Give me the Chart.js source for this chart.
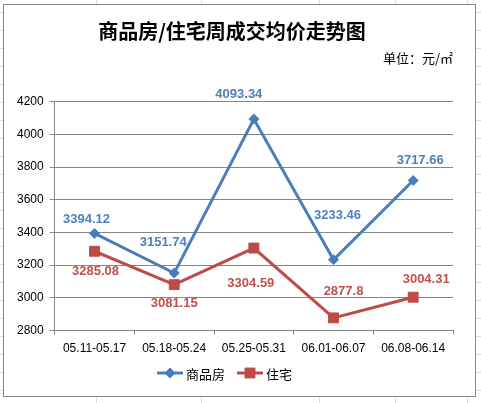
<!DOCTYPE html>
<html>
<head>
<meta charset="utf-8">
<script src="https://cdn.jsdelivr.net/npm/chart.js@4/dist/chart.umd.min.js"></script>
<style>
  html, body { margin: 0; padding: 0; }
  body {
    width: 481px; height: 403px; overflow: hidden; position: relative;
    background-color: #fff;
    background-image:
      repeating-linear-gradient(to bottom, transparent 0 12px, #dadcdd 12px 13px, transparent 13px 18px),
      linear-gradient(to right, transparent 96px, #dadcdd 96px 97px, transparent 97px 201px, #dadcdd 201px 202px,
        transparent 202px 319px, #dadcdd 319px 320px, transparent 320px 395px, #dadcdd 395px 396px,
        transparent 396px 467px, #dadcdd 467px 468px, transparent 468px);
  }
  #box {
    position: absolute; left: 3px; top: 4px; width: 471px; height: 391px;
    border: 1px solid #868686; background: #fff;
  }
</style>
</head>
<body>
<div id="box"><canvas id="chart" width="471" height="391"></canvas></div>
<script>
/* Datos */
const weeks = ['05.11-05.17', '05.18-05.24', '05.25-05.31', '06.01-06.07', '06.08-06.14'];
const shangpinfang = [3394.12, 3151.74, 4093.34, 3233.46, 3717.66];
const zhuzhai = [3285.08, 3081.15, 3304.59, 2877.8, 3004.31];
const yTicks = [2800, 3000, 3200, 3400, 3600, 3800, 4000, 4200];

const blue = '#4A7EBB';
const red = '#BE4B48';

/* Desplazamiento de etiquetas (como en Excel, movidas a mano) */
const labelOffsets = [
  [[-8, -14], [-11, -31], [-15, -25], [4, -44], [7, -20]],
  [[1, 20], [0, 19], [-3, 35], [10, -26], [13, -18]]
];

const labelPlugin = {
  id: 'valueLabels',
  afterDatasetsDraw(chart) {
    const ctx = chart.ctx;
    ctx.save();
    ctx.font = 'bold 13px "Liberation Sans", Arial, sans-serif';
    ctx.textAlign = 'center';
    ctx.textBaseline = 'middle';
    chart.data.datasets.forEach((ds, i) => {
      ctx.fillStyle = i === 0 ? '#4F81BD' : '#C0504D';
      chart.getDatasetMeta(i).data.forEach((pt, j) => {
        const off = labelOffsets[i][j];
        ctx.fillText(String(ds.data[j]), pt.x + off[0], pt.y + off[1]);
      });
    });
    ctx.restore();
  }
};

/* Leyenda con linea y marcador */
const legendPlugin = {
  id: 'lineLegend',
  afterDraw(chart) {
    const ctx = chart.ctx;
    const y = 368;
    let x = 153;
    ctx.save();
    ctx.font = '13px "Noto Sans CJK SC", sans-serif';
    ctx.textBaseline = 'middle';
    chart.data.datasets.forEach((ds) => {
      ctx.strokeStyle = ds.borderColor;
      ctx.lineWidth = 3;
      ctx.beginPath();
      ctx.moveTo(x, y);
      ctx.lineTo(x + 26, y);
      ctx.stroke();
      ctx.fillStyle = ds.backgroundColor;
      ctx.lineWidth = 1;
      Chart.helpers.drawPoint(ctx, {
        pointStyle: ds.pointStyle,
        radius: ds.pointRadius,
        borderWidth: 1
      }, x + 13, y);
      ctx.fillStyle = '#000';
      ctx.fillText(ds.label, x + 29, y + 1);
      x += 29 + ctx.measureText(ds.label).width + 12;
    });
    ctx.restore();
  }
};

const config = {
  type: 'line',
  data: {
    labels: weeks,
    datasets: [
      {
        label: '商品房',
        data: shangpinfang,
        borderColor: blue,
        backgroundColor: blue,
        borderWidth: 3,
        pointStyle: 'rectRot',
        pointRadius: 5,
        pointBorderWidth: 1,
        tension: 0
      },
      {
        label: '住宅',
        data: zhuzhai,
        borderColor: red,
        backgroundColor: red,
        borderWidth: 3,
        pointStyle: 'rect',
        pointRadius: 7,
        pointBorderWidth: 1,
        tension: 0
      }
    ]
  },
  options: {
    responsive: false,
    animation: false,
    events: [],
    layout: { padding: { left: 7, right: 22, top: 0, bottom: 33 } },
    plugins: {
      legend: { display: false },
      tooltip: { enabled: false },
      title: {
        display: true,
        text: '商品房/住宅周成交均价走势图',
        color: '#000',
        font: { family: '"Noto Sans CJK SC", sans-serif', size: 20, weight: 'bold' },
        padding: { top: 14, bottom: 7 }
      },
      subtitle: {
        display: true,
        text: '单位：元/㎡',
        align: 'end',
        color: '#000',
        font: { family: '"Noto Sans CJK SC", sans-serif', size: 13 },
        padding: { top: 0, bottom: 36 }
      }
    },
    scales: {
      x: {
        offset: true,
        grid: {
          display: true,
          offset: true,
          drawOnChartArea: false,
          drawTicks: true,
          tickLength: 4,
          color: '#868686'
        },
        border: { color: '#868686' },
        ticks: {
          color: '#000',
          padding: 7,
          maxRotation: 0,
          font: { family: '"Liberation Sans", Arial, sans-serif', size: 12 }
        }
      },
      y: {
        min: 2800,
        max: 4200,
        afterBuildTicks(axis) {
          axis.ticks = yTicks.map(v => ({ value: v }));
        },
        grid: { color: '#868686', tickLength: 5 },
        border: { color: '#868686' },
        ticks: {
          color: '#000',
          padding: 6,
          callback: v => String(v),
          font: { family: '"Liberation Sans", Arial, sans-serif', size: 12 }
        }
      }
    }
  },
  plugins: [labelPlugin, legendPlugin]
};

new Chart(document.getElementById('chart').getContext('2d'), config);
</script>
</body>
</html>
